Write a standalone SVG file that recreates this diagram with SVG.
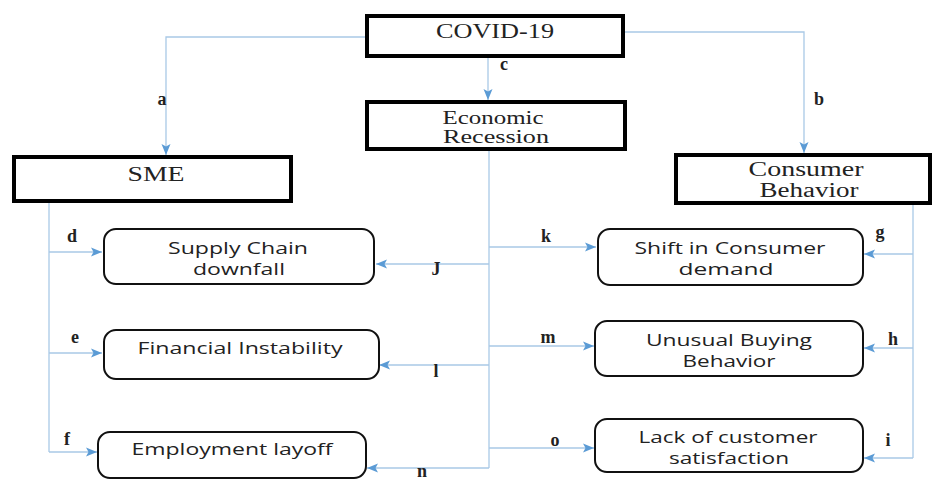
<svg xmlns="http://www.w3.org/2000/svg" width="933" height="480" viewBox="0 0 933 480">
<defs>
<marker id="ah" markerUnits="userSpaceOnUse" markerWidth="12" markerHeight="10" refX="11" refY="5" orient="auto">
<path d="M0,0.5 L11,5 L0,9.5 L2.5,5 Z" fill="#5b9bd5"/>
</marker>
<style>
.main{fill:#fff;stroke:#000;stroke-width:4}
.sub{fill:#fff;stroke:#111;stroke-width:2}
.st{font-family:"Liberation Serif","Times New Roman",serif;font-size:20px;fill:#222;text-anchor:middle}
.st2{font-size:18px}
.ss{font-family:"Open Sans","Liberation Sans",sans-serif;font-size:16px;fill:#222;text-anchor:middle}
.lb{font-family:"Liberation Serif","Times New Roman",serif;font-size:18px;font-weight:bold;fill:#222;text-anchor:middle}
.c{fill:none;stroke:#a9c9e6;stroke-width:1.3}
.c.a{marker-end:url(#ah)}
</style>
</defs>
<rect width="933" height="480" fill="#fff"/>
<g id="connectors">
<path class="c a" d="M365,37 H166 V155"/>
<path class="c a" d="M625,32 H804 V153"/>
<path class="c a" d="M488,58 V100"/>
<path class="c" d="M489,151 V468"/>
<path class="c a" d="M489,247 H596"/>
<path class="c a" d="M489,346 H594"/>
<path class="c a" d="M489,448 H594"/>
<path class="c a" d="M489,264 H376"/>
<path class="c a" d="M489,365 H379"/>
<path class="c a" d="M489,468 H367"/>
<path class="c" d="M49,203 V452"/>
<path class="c a" d="M49,252 H102"/>
<path class="c a" d="M49,353 H102"/>
<path class="c a" d="M49,452 H97"/>
<path class="c" d="M913,205 V458"/>
<path class="c a" d="M913,254 H864"/>
<path class="c a" d="M913,348 H864"/>
<path class="c a" d="M913,458 H864"/>
<g id="labels">
<text class="lb" x="162" y="105">a</text>
<text class="lb" x="819" y="105">b</text>
<text class="lb" x="504" y="70">c</text>
<text class="lb" x="72" y="242">d</text>
<text class="lb" x="75" y="343">e</text>
<text class="lb" x="67" y="445">f</text>
<text class="lb" x="880" y="238">g</text>
<text class="lb" x="893" y="345">h</text>
<text class="lb" x="888" y="446">i</text>
<text class="lb" x="436" y="275">J</text>
<text class="lb" x="546" y="242">k</text>
<text class="lb" x="436" y="377">l</text>
<text class="lb" x="548" y="343">m</text>
<text class="lb" x="422" y="477" font-size="17">n</text>
<text class="lb" x="555" y="446">o</text>
</g>
</g>
<g id="covid">
<rect class="main" x="367" y="16" width="256" height="40"/>
<text class="st" x="495" y="38" textLength="118" lengthAdjust="spacingAndGlyphs">COVID-19</text>
</g>
<g id="recession">
<rect class="main" x="367" y="102" width="258" height="47"/>
<text class="st st2" x="493" y="124" textLength="101" lengthAdjust="spacingAndGlyphs">Economic</text>
<text class="st st2" x="496" y="143" textLength="106" lengthAdjust="spacingAndGlyphs">Recession</text>
</g>
<g id="sme">
<rect class="main" x="14" y="157" width="277" height="44"/>
<text class="st" x="156" y="181" textLength="57" lengthAdjust="spacingAndGlyphs">SME</text>
</g>
<g id="consumer">
<rect class="main" x="676" y="155" width="254" height="48"/>
<text class="st" x="806" y="176" textLength="115" lengthAdjust="spacingAndGlyphs">Consumer</text>
<text class="st" x="809" y="197" textLength="99" lengthAdjust="spacingAndGlyphs">Behavior</text>
</g>
<g id="supply">
<rect class="sub" x="104" y="229" width="270" height="55" rx="12"/>
<text class="ss" x="238" y="254" textLength="140" lengthAdjust="spacingAndGlyphs">Supply Chain</text>
<text class="ss" x="239" y="275" textLength="92" lengthAdjust="spacingAndGlyphs">downfall</text>
</g>
<g id="financial">
<rect class="sub" x="104" y="330" width="275" height="49" rx="12"/>
<text class="ss" x="240" y="354" textLength="205" lengthAdjust="spacingAndGlyphs">Financial Instability</text>
</g>
<g id="employment">
<rect class="sub" x="98" y="432" width="268" height="46" rx="12"/>
<text class="ss" x="232" y="455" textLength="201" lengthAdjust="spacingAndGlyphs">Employment layoff</text>
</g>
<g id="shift">
<rect class="sub" x="598" y="229" width="265" height="56" rx="12"/>
<text class="ss" x="730" y="254" textLength="191" lengthAdjust="spacingAndGlyphs">Shift in Consumer</text>
<text class="ss" x="726" y="275" textLength="95" lengthAdjust="spacingAndGlyphs">demand</text>
</g>
<g id="unusual">
<rect class="sub" x="595" y="321" width="268" height="55" rx="12"/>
<text class="ss" x="729" y="346" textLength="166" lengthAdjust="spacingAndGlyphs">Unusual Buying</text>
<text class="ss" x="729" y="367" textLength="93" lengthAdjust="spacingAndGlyphs">Behavior</text>
</g>
<g id="lack">
<rect class="sub" x="595" y="419" width="268" height="53" rx="12"/>
<text class="ss" x="728" y="443" textLength="179" lengthAdjust="spacingAndGlyphs">Lack of customer</text>
<text class="ss" x="729" y="464" textLength="120" lengthAdjust="spacingAndGlyphs">satisfaction</text>
</g>
</svg>
